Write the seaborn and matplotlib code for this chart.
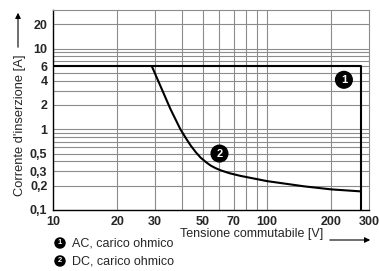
import numpy as np
import pandas as pd
import seaborn as sns
import matplotlib.pyplot as plt

# curve 1: AC, carico ohmico
ac_v = [10, 275, 275]
ac_i = [6, 6, 0.1]
# curve 2: DC, carico ohmico
dc_v = [29, 35.4, 39.4, 42, 44, 46.5, 49, 52, 54.6, 57.5, 60.8, 67, 75, 100, 150, 200, 275]
dc_i = [6, 1.78, 1.0, 0.76, 0.63, 0.52, 0.445, 0.39, 0.355, 0.33, 0.31, 0.285, 0.265, 0.228, 0.196, 0.18, 0.17]

x_ticks = [10, 20, 30, 50, 70, 100, 200, 300]
y_ticks = [0.1, 0.2, 0.3, 0.5, 1, 2, 4, 6, 10, 20]
x_grid = [20, 30, 40, 50, 60, 70, 80, 90, 100, 200]
y_grid = [0.2, 0.3, 0.4, 0.5, 0.6, 0.7, 0.8, 0.9, 1, 2, 3, 4, 5, 6, 7, 8, 9, 10, 20]
legend_labels = ["AC, carico ohmico", "DC, carico ohmico"]

sns.set_style("white")
plt.rcParams['font.family'] = ['Liberation Sans', 'DejaVu Sans']

fig = plt.figure(figsize=(3.79, 2.71), dpi=100)
ax = fig.add_axes([53/379, 1-210/271, 316/379, 200/271])
ax.set_xscale('log')
ax.set_yscale('log')
ax.set_xlim(10, 300)
ax.set_ylim(0.1, 30)

for x in x_grid:
    ax.axvline(x, color='#8c8c8c', lw=0.8, zorder=1)
for y in y_grid:
    ax.axhline(y, color='#8c8c8c', lw=0.8, zorder=1)

df_ac = pd.DataFrame({'V': ac_v, 'I': ac_i})
df_dc = pd.DataFrame({'V': dc_v, 'I': dc_i})
sns.lineplot(data=df_ac, x='V', y='I', sort=False, estimator=None, color='black', lw=1.5, ax=ax, zorder=3)
sns.lineplot(data=df_dc, x='V', y='I', sort=False, estimator=None, color='black', lw=1.5, ax=ax, zorder=3)

ax.set_xticks(x_ticks)
ax.set_xticklabels([str(t) for t in x_ticks])
ax.set_yticks(y_ticks)
ax.set_yticklabels([str(t).replace('.', ',') for t in y_ticks])
ax.minorticks_off()
ax.tick_params(length=0, labelsize=9, pad=4)
for lab in ax.get_xticklabels() + ax.get_yticklabels():
    lab.set_fontweight('bold')
ax.set_xlabel('')
ax.set_ylabel('')

for side in ['left', 'bottom']:
    ax.spines[side].set_color('black')
    ax.spines[side].set_linewidth(1)
for side in ['top', 'right']:
    ax.spines[side].set_color('#8c8c8c')
    ax.spines[side].set_linewidth(0.8)

# numbered markers on curves
circ = dict(boxstyle='circle,pad=0.3', fc='black', ec='black')
ax.text(229, 4.1, '1', color='white', fontsize=8, fontweight='bold', ha='center', va='center', bbox=circ, zorder=5)
ax.text(60, 0.5, '2', color='white', fontsize=8, fontweight='bold', ha='center', va='center', bbox=circ, zorder=5)

# axis labels with arrows
fig.text(20/379, 1-125/271, "Corrente d'inserzione [A]", rotation=90, fontsize=9.3, ha='center', va='center')
ax.annotate('', xy=(18, 271-10), xytext=(18, 271-50), xycoords='figure pixels', textcoords='figure pixels',
            arrowprops=dict(arrowstyle='-|>', color='black', lw=0.8, mutation_scale=8))
fig.text(180/379, 1-234/271, "Tensione commutabile [V]", fontsize=9, ha='left', va='center')
ax.annotate('', xy=(373, 271-240), xytext=(327, 271-240), xycoords='figure pixels', textcoords='figure pixels',
            arrowprops=dict(arrowstyle='-|>', color='black', lw=0.8, mutation_scale=8))

# legend
circ_s = dict(boxstyle='circle,pad=0.2', fc='black', ec='black')
for i, lab in enumerate(legend_labels):
    yy = 1 - (243 + 18*i)/271
    fig.text(60/379, yy, str(i+1), color='white', fontsize=5.5, fontweight='bold', ha='center', va='center', bbox=circ_s)
    fig.text(72/379, yy, lab, fontsize=9, ha='left', va='center')

fig.savefig('out.png', dpi=100)
